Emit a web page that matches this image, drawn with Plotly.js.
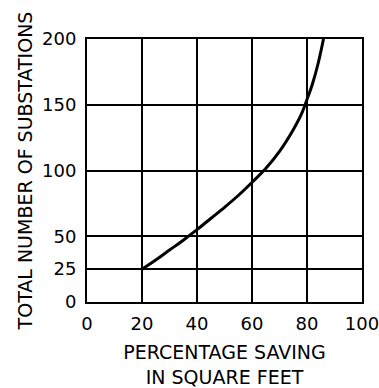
<!DOCTYPE html>
<html>
<head>
<meta charset="utf-8">
<script src="https://cdn.plot.ly/plotly-3.0.1.min.js"></script>
<style>html,body{margin:0;padding:0;background:#fff;}#chart{width:379px;height:388px;}</style>
</head>
<body>
<div id="chart"></div>
<script>
const savingPct = [20, 25, 30, 35, 40, 45, 50, 55, 60, 65, 70, 75, 78, 80, 82, 84, 86];
const substations = [25, 32, 39.5, 47, 55, 63.5, 72, 81, 91, 101.5, 114.5, 131, 143, 154, 166, 181, 200];
const xTicks = [0, 20, 40, 60, 80, 100];
const yTicks = [0, 25, 50, 100, 150, 200];
const xTitle = 'PERCENTAGE SAVING<br>IN SQUARE FEET';
const yTitle = 'TOTAL NUMBER OF SUBSTATIONS';

const font = 'DejaVu Sans, sans-serif';
Plotly.newPlot('chart', [{
  x: savingPct, y: substations, type: 'scatter', mode: 'lines',
  line: {color: '#000', width: 3, shape: 'spline', smoothing: 1},
  hoverinfo: 'skip'
}], {
  width: 379, height: 388,
  margin: {l: 87, r: 17, t: 39, b: 86},
  paper_bgcolor: '#fff', plot_bgcolor: '#fff',
  showlegend: false,
  font: {family: font, color: '#000'},
  xaxis: {
    range: [0, 100], tickvals: xTicks, ticktext: xTicks.map(String),
    showgrid: true, gridcolor: '#000', gridwidth: 2,
    showline: true, linecolor: '#000', linewidth: 2, mirror: true,
    zeroline: false, ticks: 'outside', ticklen: 4, tickcolor: 'rgba(0,0,0,0)',
    ticklabeloverflow: 'allow',
    tickfont: {size: 18, family: font, color: '#000'},
    title: {text: xTitle, font: {size: 19, family: font, color: '#000'}, standoff: 15}
  },
  yaxis: {
    range: [0, 200], tickvals: yTicks, ticktext: yTicks.map(String),
    showgrid: true, gridcolor: '#000', gridwidth: 2,
    showline: true, linecolor: '#000', linewidth: 2, mirror: true,
    zeroline: false, ticks: 'outside', ticklen: 5, tickcolor: 'rgba(0,0,0,0)',
    ticklabeloverflow: 'allow',
    tickfont: {size: 18, family: font, color: '#000'},
    title: {text: yTitle, font: {size: 19, family: font, color: '#000'}, standoff: 4}
  }
}, {staticPlot: true, displayModeBar: false});
</script>
</body>
</html>
